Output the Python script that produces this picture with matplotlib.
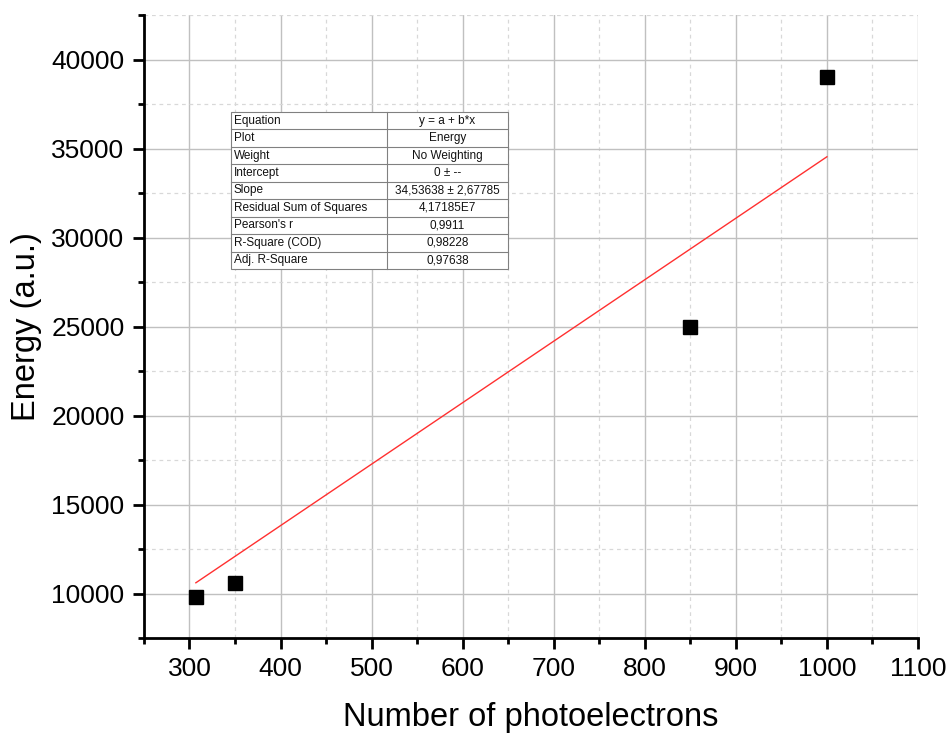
import matplotlib
matplotlib.use("Agg")
import matplotlib.pyplot as plt
import numpy as np
from matplotlib.ticker import MultipleLocator
from matplotlib.patches import Rectangle
from matplotlib.lines import Line2D

plt.rcParams['font.family'] = ['Liberation Sans', 'DejaVu Sans']

photoelectrons = [307, 350, 850, 1000]
energy = [9830, 10600, 25000, 39000]
slope = 34.53638
fit_x = [307, 1000]

table_labels = ["Equation", "Plot", "Weight", "Intercept", "Slope",
                "Residual Sum of Squares", "Pearson's r", "R-Square (COD)", "Adj. R-Square"]
table_values = ["y = a + b*x", "Energy", "No Weighting", "0 ± --", "34,53638 ± 2,67785",
                "4,17185E7", "0,9911", "0,98228", "0,97638"]

W, H = 949, 733
fig = plt.figure(figsize=(9.49, 7.33), dpi=100)
ax = fig.add_axes([0.1517, 0.1296, 0.9673 - 0.1517, 0.9795 - 0.1296])

ax.set_xlim(250, 1100)
ax.set_ylim(7500, 42500)
ax.xaxis.set_major_locator(MultipleLocator(100))
ax.xaxis.set_minor_locator(MultipleLocator(50))
ax.yaxis.set_major_locator(MultipleLocator(5000))
ax.yaxis.set_minor_locator(MultipleLocator(2500))

ax.grid(which='major', color='#c0c0c0', linewidth=1.0, linestyle='-')
ax.grid(which='minor', color='#d8d8d8', linewidth=0.9, linestyle=(0, (3, 3)))
ax.set_axisbelow(True)

for s in ['top', 'right']:
    ax.spines[s].set_visible(False)
for s in ['left', 'bottom']:
    ax.spines[s].set_linewidth(2)

ax.tick_params(which='major', direction='out', length=8, width=2, labelsize=19, pad=6)
ax.tick_params(which='minor', direction='out', length=4, width=2)

fit_y = [slope * v for v in fit_x]
ax.plot(fit_x, fit_y, color='#ff3030', linewidth=1.0, zorder=3)
ax.plot(photoelectrons, energy, linestyle='none', marker='s', markersize=10,
        color='black', zorder=4, clip_on=False)

ax.set_xlabel("Number of photoelectrons", fontsize=23.5, labelpad=15)
ax.set_ylabel("Energy (a.u.)", fontsize=23.5, labelpad=7)

# parameter table drawn in figure pixel coordinates
x0, x1, xm = 231, 508, 387
y0, y1 = 112, 269
n = len(table_labels)
rh = (y1 - y0) / n

def fx(px):
    return px / W

def fy(py):
    return 1 - py / H

fig.add_artist(Rectangle((fx(x0), fy(y1)), fx(x1) - fx(x0), fy(y0) - fy(y1),
                         transform=fig.transFigure, facecolor='white',
                         edgecolor='#808080', linewidth=0.8, zorder=5))
fig.add_artist(Line2D([fx(xm), fx(xm)], [fy(y0), fy(y1)], transform=fig.transFigure,
                      color='#808080', linewidth=0.8, zorder=6))
for i in range(1, n):
    yy = y0 + i * rh
    fig.add_artist(Line2D([fx(x0), fx(x1)], [fy(yy), fy(yy)], transform=fig.transFigure,
                          color='#808080', linewidth=0.8, zorder=6))
for i, (lab, val) in enumerate(zip(table_labels, table_values)):
    yc = y0 + (i + 0.5) * rh
    fig.text(fx(x0 + 3), fy(yc), lab, ha='left', va='center', fontsize=8.5, zorder=7,
             color='#111111')
    fig.text(fx((xm + x1) / 2), fy(yc), val, ha='center', va='center', fontsize=8.5,
             zorder=7, color='#111111')

fig.savefig("out.png", dpi=100)
